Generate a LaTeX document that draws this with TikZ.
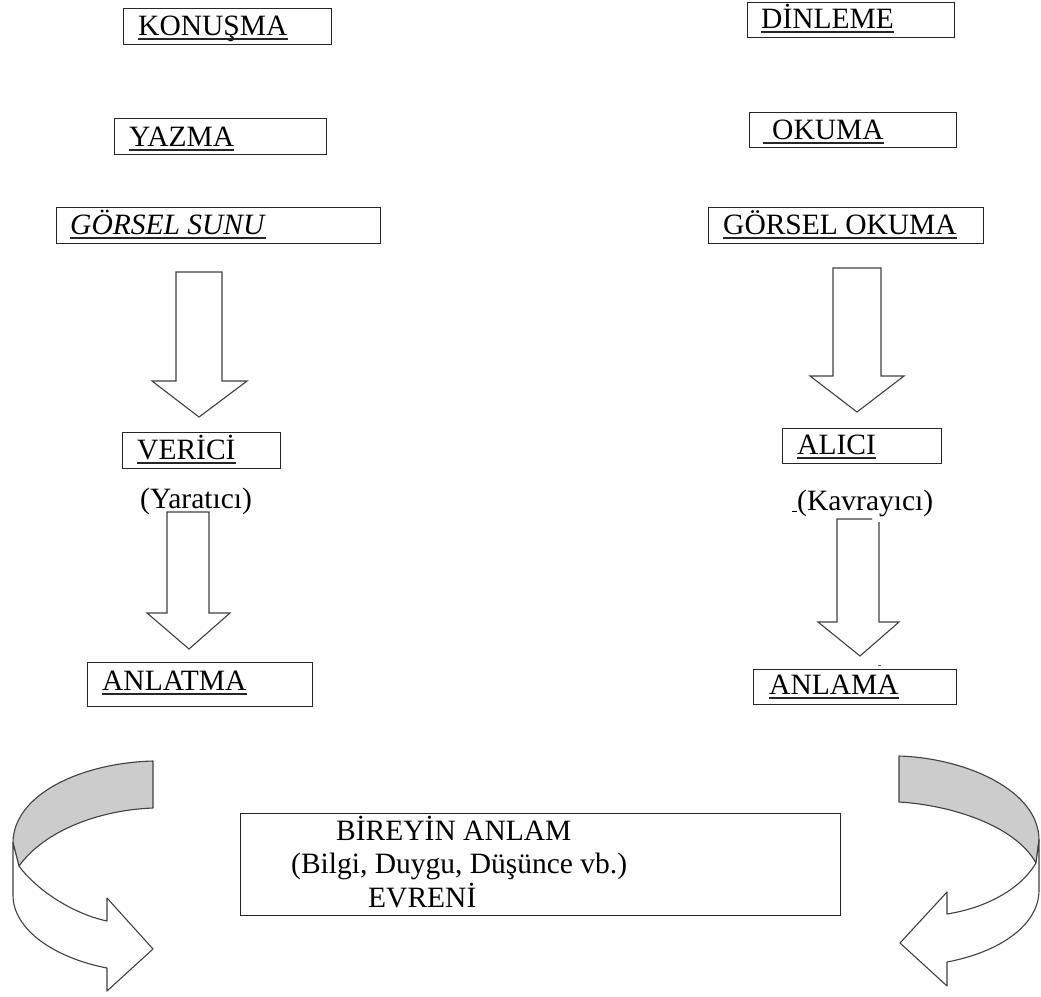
\documentclass[tikz,border=0pt]{standalone}
\usepackage{fontspec}
\setmainfont{Liberation Serif}
\begin{document}
\begin{tikzpicture}[x=1pt,y=-1pt,
  every node/.style={font=\fontsize{29.5}{31}\selectfont},
  box/.style={draw=black!85, line width=1.4pt, inner sep=0pt, anchor=north west},
  lbl/.style={inner sep=0pt, anchor=base west},
  uline/.style={draw=black!85, line width=1.3pt},
  blockarrow/.style={draw=black!75, line width=1.1pt, fill=white, line join=miter},
  ribbon/.style={draw=black!75, line width=1.1pt, line join=round},
]
\useasboundingbox (0,0) rectangle (1041,996);

% left column boxes
\node[box, minimum width=208pt, minimum height=36pt] (kon) at (123,8) {};
\node[box, minimum width=212pt, minimum height=36pt] (yaz) at (114,118) {};
\node[box, minimum width=324pt, minimum height=36pt] (gsu) at (56,207) {};
\node[box, minimum width=158pt, minimum height=36pt] (ver) at (122,432) {};
\node[box, minimum width=225pt, minimum height=44pt] (anlt) at (87,662) {};

% right column boxes
\node[box, minimum width=207pt, minimum height=35pt] (din) at (747,2) {};
\node[box, minimum width=207pt, minimum height=35pt] (oku) at (749,112) {};
\node[box, minimum width=275pt, minimum height=36pt] (gok) at (708,207) {};
\node[box, minimum width=159pt, minimum height=35pt] (ali) at (782,428) {};
\node[box, minimum width=203pt, minimum height=35pt] (anlm) at (753,669) {};

% labels
\node[lbl] (konT) at (138,35) {KONUŞMA};
\node[lbl] (yazT) at (129,146) {YAZMA};
\node[lbl] (gsuT) at (70,234) {\textit{GÖRSEL SUNU}};
\node[lbl] (verT) at (137,459) {VERİCİ};
\node[lbl] (anltT) at (102,690) {ANLATMA};
\node[lbl] (dinT) at (761,28) {DİNLEME};
\node[lbl] (okuT) at (763,139) {\hspace{9pt}OKUMA};
\node[lbl] (gokT) at (723,234) {GÖRSEL OKUMA};
\node[lbl] (aliT) at (797,454) {ALICI};
\node[lbl] (anlmT) at (769,694) {ANLAMA};

\foreach \n in {konT,yazT,gsuT,verT,anltT,dinT,okuT,gokT,aliT,anlmT}
  \draw[uline] ([yshift=-4pt]\n.base west) -- ([yshift=-4pt]\n.base east);

\node[lbl] (yar) at (140,508) {(Yaratıcı)};
\node[lbl] (kav) at (792,510) {\underline{\hspace{5pt}}(Kavrayıcı)};

% block arrows
\filldraw[blockarrow] (176,272) -- (222,272) -- (222,381) -- (247,381) -- (199,417)
  -- (152,381) -- (176,381) -- cycle;
\filldraw[blockarrow] (833,268) -- (881,268) -- (881,376) -- (904,376) -- (857,412)
  -- (810,376) -- (833,376) -- cycle;
\filldraw[blockarrow] (167,512) -- (209,512) -- (209,613) -- (230,613) -- (189,649)
  -- (147,613) -- (167,613) -- cycle;
\fill[white] (837,519) rectangle (879,622);
\draw[blockarrow] (872,519) -- (837,519) -- (837,622) -- (818,622) -- (860,656)
  -- (899,622) -- (879,622) -- (879,522);
\draw[draw=black!60, line width=1pt] (878,665) -- (881,665);

% central box
\node[box, minimum width=600pt, minimum height=102pt] (univ) at (240,813) {};
\node[lbl] (u1) at (336,840) {BİREYİN ANLAM};
\node[lbl] (u2) at (291,873) {(Bilgi, Duygu, Düşünce vb.)};
\node[lbl] (u3) at (368,907) {EVRENİ};

% left curved arrow
\filldraw[ribbon, fill=black!20] (153,761) -- (153,808)
  .. controls (100,810) and (45,830) .. (19,866) -- (13,843)
  .. controls (13,795) and (80,763) .. (153,761) -- cycle;
\filldraw[ribbon, fill=white] (19,866) .. controls (35,888) and (70,913) .. (107,921)
  -- (107,898) -- (153,949) -- (107,991) -- (107,968)
  .. controls (55,958) and (13,930) .. (13,895) -- (13,843) -- cycle;

% right curved arrow
\filldraw[ribbon, fill=black!20] (899,756) -- (899,802)
  .. controls (950,805) and (1015,825) .. (1036,863) -- (1039,840)
  .. controls (1039,790) and (965,758) .. (899,756) -- cycle;
\filldraw[ribbon, fill=white] (1036,863) .. controls (1020,890) and (985,908) .. (947,914)
  -- (947,892) -- (900,943) -- (947,986) -- (947,962)
  .. controls (1000,952) and (1039,925) .. (1039,890) -- (1039,840) -- cycle;
\end{tikzpicture}
\end{document}
